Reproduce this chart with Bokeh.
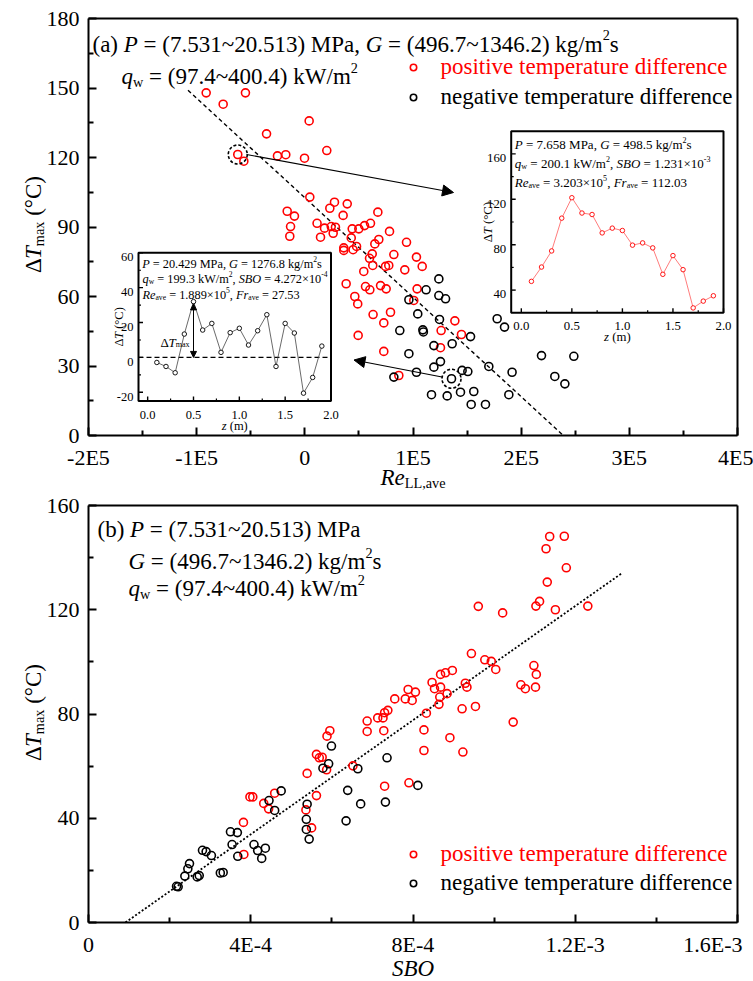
import numpy as np
from bokeh.plotting import figure
from bokeh.models import (Range1d, FixedTicker, Label, Legend, LegendItem, Arrow, NormalHead,
                          LinearAxis)
from bokeh.core.properties import value
from bokeh.layouts import column
from bokeh.embed import file_html
from bokeh.resources import INLINE

FONT = "Liberation Serif"

# ---------------- data: panel (a) ----------------
top_pos_x = [-91200, -75500, -54900, -35400, 4000, -62000, -56400, -25300, -17600, -300,
             20300, 4600, 27400, 39200, 23100, -16300, -9600, -13200, -13900, 35400,
             67500, 11300, 18200, 24400, 28300, 26200, 14500, 43800, 49900, 55200,
             60700, 78300, 42900, 68400, 94000, 64700, 36000, 47800, 36000, 44600,
             62300, 59800, 82300, 103200, 108500, 74600, 77600, 62800, 92400, 54500,
             38200, 56100, 70000, 75200, 60100, 103800, 46200, 48900, 63100, 79200,
             73000, 100700, 49300, 73000, 138700, 126000, 144800, 125400, 86900]
top_pos_y = [147.9, 143.0, 147.9, 130.2, 135.8, 121.3, 118.4, 120.7, 121.2, 119.7,
             123.0, 102.9, 100.7, 100.0, 98.1, 96.8, 94.7, 90.2, 86.0, 95.0,
             96.4, 91.6, 89.5, 90.2, 89.9, 87.3, 85.6, 89.2, 89.2, 90.6,
             91.6, 88.1, 85.3, 84.6, 83.4, 82.7, 81.0, 81.6, 79.9, 80.2,
             78.4, 76.5, 78.1, 77.0, 73.0, 73.0, 73.4, 73.4, 71.5, 70.8,
             65.5, 64.3, 64.7, 63.3, 62.9, 63.3, 60.0, 56.8, 52.2, 53.2,
             48.6, 58.3, 43.2, 36.3, 49.5, 45.3, 43.6, 37.9, 25.9]
top_neg_x = [123900, 112100, 123900, 130100, 96200, 104400, 124500, 87800, 109100, 109600,
             136200, 119300, 153200, 96200, 125400, 119300, 103200, 82300, 145400, 150700,
             135600, 170100, 191600, 117100, 131600, 143900, 156200, 153800, 167000, 188600,
             177800, 184600, 218800, 248700, 231100, 240400]
top_neg_y = [67.6, 62.9, 60.4, 59.0, 58.6, 52.5, 50.1, 45.3, 45.6, 44.7,
             39.6, 38.8, 42.7, 35.3, 31.9, 29.5, 27.3, 25.2, 28.1, 27.6,
             24.5, 29.8, 27.3, 17.6, 17.1, 18.7, 19.0, 13.4, 13.4, 17.6,
             50.4, 46.8, 34.5, 34.2, 25.5, 22.3]
fit_a_x = [-108000, 239000]
fit_a_y = [149.0, 0.0]
hl_x = [-62000, 135600]
hl_y = [121.3, 24.5]

# insets (z in m, Delta T in C)
inset_z = [0.1, 0.2, 0.3, 0.4, 0.5, 0.6, 0.7, 0.8, 0.9, 1.0,
           1.1, 1.2, 1.3, 1.4, 1.5, 1.6, 1.7, 1.8, 1.9]
left_dT = [-2.9, -5.2, -8.8, 13.4, 32.0, 15.7, 19.5, 2.9, 14.2, 16.7,
           7.1, 15.3, 24.5, -5.2, 19.5, 14.0, -20.5, -11.5, 6.5]
right_dT = [47.7, 60.3, 74.5, 103.4, 121.4, 107.9, 106.6, 90.4, 94.6, 92.5,
            79.6, 81.6, 77.2, 53.9, 70.4, 58.0, 24.3, 30.3, 35.0]
inset_xticks = [0.0, 0.5, 1.0, 1.5, 2.0]
inset_xminor = [0.25, 0.75, 1.25, 1.75]
left_yticks = [-20, 0, 20, 40, 60]
left_yminor = [-10, 10, 30, 50]
right_yticks = [40, 80, 120, 160]
right_yminor = [60, 100, 140]

# ---------------- data: panel (b) ----------------
bot_pos_x = [3.83e-4, 3.82e-4, 3.98e-4, 4.05e-4, 4.32e-4, 4.44e-4, 4.59e-4, 5.36e-4, 5.50e-4, 5.39e-4,
             5.62e-4, 5.62e-4, 5.69e-4, 5.76e-4, 5.87e-4, 5.88e-4, 5.95e-4, 6.52e-4, 6.87e-4, 6.87e-4,
             7.13e-4, 7.26e-4, 7.30e-4, 7.38e-4, 7.28e-4, 7.30e-4, 1.137e-3, 1.173e-3, 1.128e-3, 1.178e-3,
             1.131e-3, 9.61e-4, 1.021e-3, 1.103e-3, 1.112e-3, 1.151e-3, 1.231e-3, 9.44e-4, 9.77e-4, 9.93e-4,
             1.004e-3, 1.098e-3, 1.104e-3, 1.102e-3, 1.066e-3, 1.077e-3, 9.29e-4, 9.33e-4, 8.47e-4, 8.53e-4,
             8.68e-4, 8.80e-4, 8.97e-4, 8.68e-4, 8.66e-4, 8.84e-4, 8.64e-4, 8.33e-4, 9.21e-4, 9.54e-4,
             1.047e-3, 8.27e-4, 7.55e-4, 7.81e-4, 7.98e-4, 7.88e-4, 8.06e-4, 8.91e-4, 8.27e-4, 9.23e-4,
             7.90e-4]
bot_pos_y = [26.1, 38.4, 48.2, 48.2, 45.7, 43.6, 49.6, 43.2, 36.3, 57.2,
             48.7, 64.5, 63.2, 63.4, 58.6, 71.5, 73.6, 60.1, 77.3, 73.3,
             78.5, 78.5, 80.5, 81.4, 73.6, 52.3, 148.1, 148.2, 143.4, 136.1,
             130.6, 121.3, 118.8, 121.4, 123.2, 120.0, 121.4, 103.2, 100.8, 100.2,
             97.1, 98.6, 95.2, 90.3, 91.2, 89.7, 91.8, 90.3, 92.1, 89.7,
             95.2, 95.8, 96.7, 90.3, 86.5, 87.8, 83.7, 80.3, 82.0, 82.9,
             76.9, 73.9, 85.8, 85.8, 85.2, 89.4, 88.4, 70.9, 66.0, 65.4,
             53.6]
bot_neg_x = [2.17e-4, 2.21e-4, 2.375e-4, 2.449e-4, 2.49e-4, 2.68e-4, 2.73e-4, 2.81e-4, 2.90e-4, 3.03e-4,
             3.25e-4, 3.32e-4, 3.50e-4, 3.67e-4, 3.54e-4, 3.68e-4, 4.08e-4, 4.17e-4, 4.27e-4, 4.36e-4,
             4.45e-4, 4.59e-4, 4.75e-4, 5.39e-4, 5.37e-4, 5.37e-4, 5.44e-4, 5.78e-4, 5.92e-4, 5.99e-4,
             6.35e-4, 6.39e-4, 6.64e-4, 6.71e-4, 7.32e-4, 7.36e-4, 8.12e-4]
bot_neg_y = [13.9, 13.7, 17.8, 20.6, 22.6, 17.5, 18.0, 27.7, 27.2, 25.7,
             19.0, 19.2, 34.8, 34.5, 29.9, 25.4, 29.9, 27.6, 24.6, 28.5,
             46.8, 43.0, 50.5, 45.4, 39.6, 35.7, 32.0, 59.2, 60.9, 67.7,
             39.0, 50.7, 59.0, 45.5, 46.2, 63.2, 52.6]
fit_b_x = [9.1e-5, 1.313e-3]
fit_b_y = [0.0, 133.8]

a_xticks = [-200000, -100000, 0, 100000, 200000, 300000, 400000]
a_xminor = [-150000, -50000, 50000, 150000, 250000, 350000]
a_xlabels = ["-2E5", "-1E5", "0", "1E5", "2E5", "3E5", "4E5"]
a_yticks = [0, 30, 60, 90, 120, 150, 180]
a_yminor = [15, 45, 75, 105, 135, 165]
b_xticks = [0.0, 0.0004, 0.0008, 0.0012, 0.0016]
b_xminor = [0.0002, 0.0006, 0.0010, 0.0014]
b_xlabels = ["0", "4E-4", "8E-4", "1.2E-3", "1.6E-3" + "\u00a0" * 2]
b_yticks = [0, 40, 80, 120, 160]
b_yminor = [20, 60, 100, 140]

# ---------------- text metrics (Times-compatible) ----------------
W_R = {' ': 250, '(': 333, ')': 333, ',': 250, '-': 333, '.': 250, '/': 278, '=': 564, '~': 541,
       '\u00d7': 564, '\u00b0': 400, '\u0394': 612, 'C': 667, 'E': 611, 'G': 722, 'L': 611,
       'M': 889, 'P': 556, 'W': 944}
for _d in "0123456789":
    W_R[_d] = 500
W_R.update({'a': 444, 'c': 444, 'd': 500, 'e': 444, 'f': 333, 'g': 500, 'i': 278, 'k': 500,
            'm': 778, 'n': 500, 'o': 500, 'p': 500, 'r': 333, 's': 389, 't': 278, 'u': 500,
            'v': 500, 'w': 722, 'x': 500, 'z': 444})
W_I = {'P': 611, 'G': 722, 'q': 500, 'S': 500, 'B': 611, 'O': 722, 'R': 611, 'e': 444,
       'F': 611, 'r': 389, 'T': 556, 'z': 389}
SUBF = 0.62
BIG = 23


def seg_w(t, it, s):
    tbl = W_I if it else W_R
    return sum(tbl.get(c, W_R.get(c, 500)) for c in t) / 1000.0 * s


def rich_len(parts, size):
    return sum(seg_w(t, f == "i", size * (SUBF if f in "bp" else 1.0)) for t, f in parts)


def rich(p, fx, fy, x0, y0, parts, size, color="black", vertical=False, align="left"):
    L = rich_len(parts, size)
    cx = -L / 2 if align == "center" else (-L if align == "right" else 0.0)
    for t, f in parts:
        s = size * (SUBF if f in "bp" else 1.0)
        it = (f == "i")
        dy = size * 0.22 if f == "b" else (-size * 0.38 if f == "p" else 0.0)
        core = t.strip(" ")
        lead = len(t) - len(t.lstrip(" "))
        cx += lead * 0.25 * s
        if core:
            if vertical:
                px, py = x0 + dy, y0 - cx
            else:
                px, py = x0 + cx, y0 + dy
            p.add_layout(Label(x=fx(px), y=fy(py), text=core, text_font=FONT,
                               text_font_size=f"{s:.2f}px",
                               text_font_style="italic" if it else "normal",
                               text_color=color, angle=(np.pi / 2 if vertical else 0.0),
                               text_baseline="alphabetic", text_align="left"))
            cx += seg_w(core, it, s)
            cx += (len(t) - len(t.rstrip(" "))) * 0.25 * s


def plain(p, fx, fy, x0, y0, text, size, align):
    p.add_layout(Label(x=fx(x0), y=fy(y0), text=text, text_font=FONT,
                       text_font_size=f"{size}px", text_color="black",
                       text_baseline="alphabetic", text_align=align))


def style_axis(ax):
    ax.axis_line_width = 2
    ax.axis_line_color = "black"
    ax.major_tick_in = 8
    ax.major_tick_out = 0
    ax.minor_tick_in = 5
    ax.minor_tick_out = 0
    ax.major_tick_line_width = 2
    ax.minor_tick_line_width = 2
    ax.major_label_text_font = FONT
    ax.major_label_text_font_size = "22px"
    ax.major_label_text_color = "black"
    ax.major_label_standoff = 9


def setup_axes(p, xr, yr, xt, xm, yt, ym, xlab):
    p.xgrid.visible = False
    p.ygrid.visible = False
    p.outline_line_color = None
    xa = p.xaxis[0]
    ya = p.yaxis[0]
    xa.ticker = FixedTicker(ticks=xt, minor_ticks=xm)
    ya.ticker = FixedTicker(ticks=yt, minor_ticks=ym)
    xa.major_label_overrides = dict(zip(xt, xlab))
    xa.fixed_location = yr[0]
    ya.fixed_location = xr[0]
    xa.bounds = xr
    ya.bounds = yr
    style_axis(xa)
    style_axis(ya)
    # box edges (top and right) as bare axes
    top = LinearAxis(fixed_location=yr[1], bounds=xr, ticker=FixedTicker(ticks=[]),
                     major_label_text_color=None, major_tick_line_color=None,
                     minor_tick_line_color=None, axis_line_width=2, axis_line_color="black")
    right = LinearAxis(fixed_location=xr[1], bounds=yr, ticker=FixedTicker(ticks=[]),
                       major_label_text_color=None, major_tick_line_color=None,
                       minor_tick_line_color=None, axis_line_width=2, axis_line_color="black")
    p.add_layout(top, "above")
    p.add_layout(right, "right")


def add_legend(p, r, label, color, lx, ly):
    leg = Legend(items=[LegendItem(label=value(label), renderers=[r])], location=(lx, ly),
                 orientation="vertical", background_fill_alpha=0, border_line_alpha=0,
                 padding=0, margin=0, spacing=0, glyph_width=16, glyph_height=26,
                 label_height=26, label_standoff=20, label_text_font=FONT,
                 label_text_font_size=f"{BIG}px", label_text_color=color)
    p.add_layout(leg)


# ============ panel (a) ============
# page pixel -> data (box: x 88..737, y 18..435)
def X1(px):
    return -2e5 + (px - 88) * 6e5 / 649


def Y1(py):
    return (435 - py) * 180 / 417


p1 = figure(width=753, height=490, x_range=Range1d(X1(0), X1(753)),
            y_range=Range1d(Y1(490), Y1(0)),
            output_backend="svg", toolbar_location=None, title=None, min_border=0)
setup_axes(p1, (-2e5, 4e5), (0, 180), a_xticks, a_xminor, a_yticks, a_yminor, a_xlabels)

p1.line(fit_a_x, fit_a_y, line_color="black", line_dash="4 3", line_width=1.4)
r1p = p1.scatter(top_pos_x, top_pos_y, marker="circle", size=8, fill_color=None,
                 line_color="#ff0000", line_width=1.6)
r1n = p1.scatter(top_neg_x, top_neg_y, marker="circle", size=8, fill_color=None,
                 line_color="black", line_width=1.6)
p1.scatter(hl_x, hl_y, marker="circle", size=19, fill_color=None, line_color="black",
           line_dash="3 2", line_width=1.6)

p1.add_layout(Arrow(end=NormalHead(size=11, fill_color="black", line_color="black", line_width=1),
                    x_start=X1(246), y_start=Y1(154), x_end=X1(453), y_end=Y1(192),
                    line_color="black", line_width=1.2))
p1.add_layout(Arrow(end=NormalHead(size=11, fill_color="black", line_color="black", line_width=1),
                    x_start=X1(441.5), y_start=Y1(376.5), x_end=X1(353.5), y_end=Y1(359.5),
                    line_color="black", line_width=1.2))


def make_inset(p, fx, fy, box, ys, yt, ym, fsz):
    l, t, r, b = box
    xs = (-0.1, 2.0)
    sub = p.subplot(x_source=Range1d(*xs), y_source=Range1d(*ys),
                    x_target=Range1d(fx(l), fx(r)), y_target=Range1d(fy(b), fy(t)))
    sub.quad(left=[xs[0]], right=[xs[1]], bottom=[ys[0]], top=[ys[1]],
             fill_color="white", line_color="black", line_width=2)
    sub.ray(x=inset_xticks, y=ys[0], length=4.5, length_units="screen", angle=np.pi / 2,
            line_color="black", line_width=1.4)
    sub.ray(x=inset_xminor, y=ys[0], length=2.5, length_units="screen", angle=np.pi / 2,
            line_color="black", line_width=1.2)
    sub.ray(x=xs[0], y=yt, length=4.5, length_units="screen", angle=0,
            line_color="black", line_width=1.4)
    sub.ray(x=xs[0], y=ym, length=2.5, length_units="screen", angle=0,
            line_color="black", line_width=1.2)

    def pxz(zz):
        return l + (zz - xs[0]) / (xs[1] - xs[0]) * (r - l)

    def pyv(vv):
        return b - (vv - ys[0]) / (ys[1] - ys[0]) * (b - t)

    for tk in inset_xticks:
        plain(p, fx, fy, pxz(tk), b + 13.5, f"{tk:.1f}", fsz, "center")
    for tk in yt:
        plain(p, fx, fy, l - 5, pyv(tk) + 4.3, f"{tk}", fsz, "right")
    rich(p, fx, fy, (l + r) / 2, b + 24.5, [("z", "i"), (" (m)", "n")], fsz, align="center")
    return sub, pxz, pyv


# left inset
boxL = (138.0, 252.3, 330.5, 400.5)
subL, pxL, pyL = make_inset(p1, X1, Y1, boxL, (-25, 60), left_yticks, left_yminor, 12.5)
subL.line([-0.1, 2.0], [0, 0], line_color="black", line_dash="5 3", line_width=1.2)
subL.line(inset_z, left_dT, line_color="#444444", line_width=0.8)
subL.scatter(inset_z, left_dT, marker="circle", size=4.5, fill_color="white",
             line_color="black", line_width=0.9)
p1.add_layout(Arrow(start=NormalHead(size=6, fill_color="black", line_color="black"),
                    end=NormalHead(size=6, fill_color="black", line_color="black"),
                    x_start=X1(pxL(0.5)), y_start=Y1(pyL(left_dT[4] - 1.3)),
                    x_end=X1(pxL(0.5)), y_end=Y1(pyL(0)), line_color="black", line_width=1.0))
rich(p1, X1, Y1, 160, 341.5, [("\u0394", "n"), ("T", "i"), ("max", "b")], 13)
rich(p1, X1, Y1, 118.5, (boxL[1] + boxL[3]) / 2,
     [("\u0394", "n"), ("T", "i"), (" (\u00b0C)", "n")], 12.5, vertical=True, align="center")
rich(p1, X1, Y1, 141.7, 263, [("P", "i"), (" = 20.429 MPa, ", "n"), ("G", "i"),
                              (" = 1276.8 kg/m", "n"), ("2", "p"), ("s", "n")], 12.3)
rich(p1, X1, Y1, 142, 278, [("q", "i"), ("w", "b"), (" = 199.3 kW/m", "n"), ("2", "p"),
                            (", ", "n"), ("SBO", "i"), (" = 4.272\u00d710", "n"), ("-4", "p")], 12.3)
rich(p1, X1, Y1, 142, 294, [("Re", "i"), ("ave", "b"), (" = 1.889\u00d710", "n"), ("5", "p"),
                            (", ", "n"), ("Fr", "i"), ("ave", "b"), (" = 27.53", "n")], 12.3)

# right inset
boxR = (510.7, 130.7, 723.0, 312.3)
subR, pxR, pyR = make_inset(p1, X1, Y1, boxR, (20, 180), right_yticks, right_yminor, 12.8)
subR.line(inset_z, right_dT, line_color="#ff5a5a", line_width=0.8)
subR.scatter(inset_z, right_dT, marker="circle", size=4.5, fill_color="white",
             line_color="#ff0000", line_width=0.9)
rich(p1, X1, Y1, 487, (boxR[1] + boxR[3]) / 2,
     [("\u0394", "n"), ("T", "i"), (" (\u00b0C)", "n")], 12.8, vertical=True, align="center")
rich(p1, X1, Y1, 514.3, 144, [("P", "i"), (" = 7.658 MPa, ", "n"), ("G", "i"),
                              (" = 498.5 kg/m", "n"), ("2", "p"), ("s", "n")], 13)
rich(p1, X1, Y1, 514.3, 163, [("q", "i"), ("w", "b"), (" = 200.1 kW/m", "n"), ("2", "p"),
                              (", ", "n"), ("SBO", "i"), (" = 1.231\u00d710", "n"), ("-3", "p")], 13)
rich(p1, X1, Y1, 514.3, 182, [("Re", "i"), ("ave", "b"), (" = 3.203\u00d710", "n"), ("5", "p"),
                              (", ", "n"), ("Fr", "i"), ("ave", "b"), (" = 112.03", "n")], 13)

# annotation texts (a)
rich(p1, X1, Y1, 92, 43.5, [("(a) ", "n"), ("P", "i"), (" = (7.531~20.513) MPa, ", "n"), ("G", "i"),
                            (" = (496.7~1346.2) kg/m", "n"), ("2", "p"), ("s", "n")], BIG)
rich(p1, X1, Y1, 121, 76, [("q", "i"), ("w", "b"), (" = (97.4~400.4) kW/m", "n"), ("2", "p")], BIG)
rich(p1, X1, Y1, 412.5, 477, [("Re", "i"), ("LL,ave", "b")], BIG, align="center")
rich(p1, X1, Y1, 33, 224, [("\u0394", "n"), ("T", "i"), ("max", "b"), (" (\u00b0C)", "n")], BIG,
     vertical=True, align="center")
# legend location: bottom-left corner of legend box, from the canvas bottom-left
add_legend(p1, r1p, "positive temperature difference", "#ff0000", 404.5, 410)
add_legend(p1, r1n, "negative temperature difference", "black", 404.5, 380)


# ============ panel (b) ============
# page pixel -> data (box: x 88..737, y 505..922; figure starts at page y 490)
def X2(px):
    return (px - 88) * 1.6e-3 / 649


def Y2(py):
    return (922 - py) * 160 / 417


p2 = figure(width=753, height=491, x_range=Range1d(X2(0), X2(753)),
            y_range=Range1d(Y2(981), Y2(490)),
            output_backend="svg", toolbar_location=None, title=None, min_border=0)
setup_axes(p2, (0.0, 1.6e-3), (0, 160), b_xticks, b_xminor, b_yticks, b_yminor, b_xlabels)
p2.line(fit_b_x, fit_b_y, line_color="black", line_dash="2 2", line_width=1.8)
r2p = p2.scatter(bot_pos_x, bot_pos_y, marker="circle", size=8, fill_color=None,
                 line_color="#ff0000", line_width=1.6)
r2n = p2.scatter(bot_neg_x, bot_neg_y, marker="circle", size=8, fill_color=None,
                 line_color="black", line_width=1.6)

rich(p2, X2, Y2, 97, 529, [("(b) ", "n"), ("P", "i"), (" = (7.531~20.513) MPa", "n")], BIG)
rich(p2, X2, Y2, 128, 561, [("G", "i"), (" = (496.7~1346.2) kg/m", "n"), ("2", "p"), ("s", "n")], BIG)
rich(p2, X2, Y2, 128, 588, [("q", "i"), ("w", "b"), (" = (97.4~400.4) kW/m", "n"), ("2", "p")], BIG)
rich(p2, X2, Y2, 412.5, 968, [("SBO", "i")], BIG, align="center")
rich(p2, X2, Y2, 33, 712, [("\u0394", "n"), ("T", "i"), ("max", "b"), (" (\u00b0C)", "n")], BIG,
     vertical=True, align="center")
add_legend(p2, r2p, "positive temperature difference", "#ff0000", 404.5, 114)
add_legend(p2, r2n, "negative temperature difference", "black", 404.5, 85.3)

layout = column(p1, p2, spacing=0)
open("out.html", "w").write(file_html(layout, INLINE))
